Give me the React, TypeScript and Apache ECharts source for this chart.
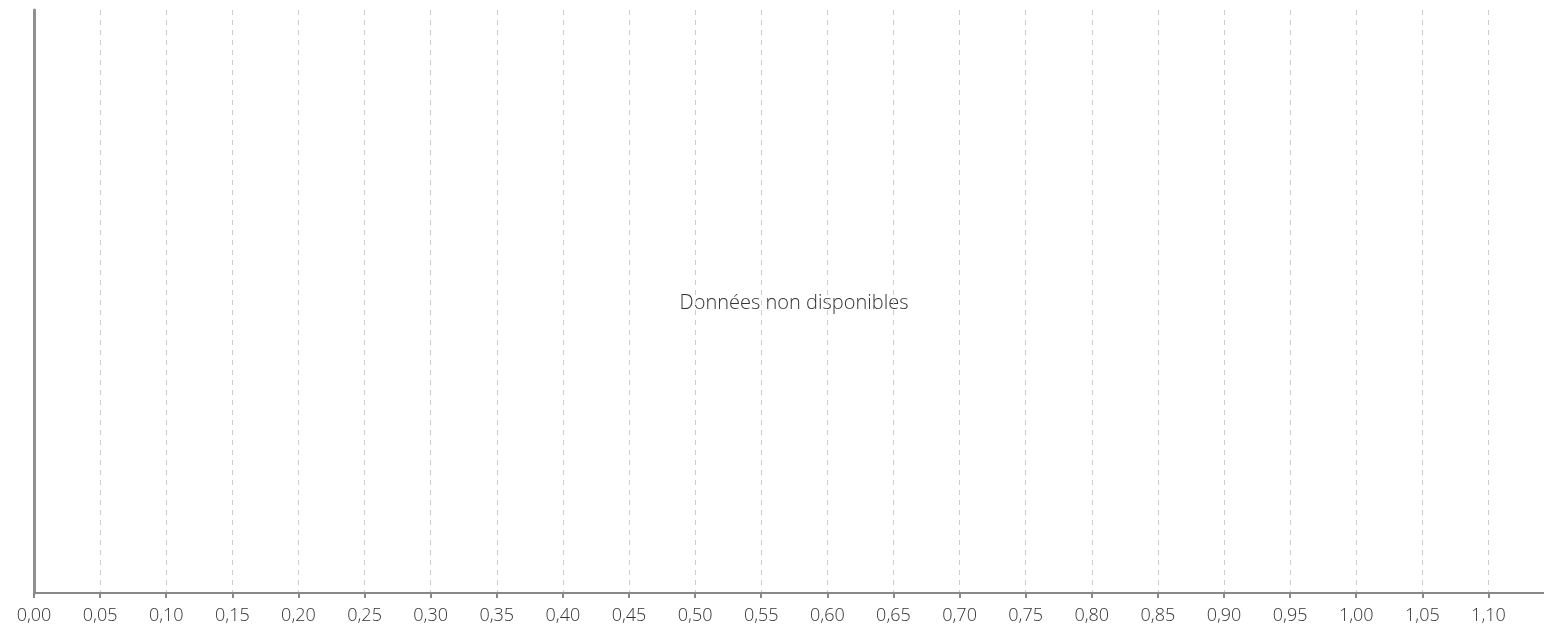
import React, { useEffect, useRef } from "react";
import * as echarts from "echarts";

const xMin = 0;
const xMax = 1.142;
const xInterval = 0.05;
const seriesData: [number, number][] = [];
const emptyMessage = "Données non disponibles";

export default function App() {
  const ref = useRef<HTMLDivElement>(null);
  useEffect(() => {
    if (!ref.current) return;
    const chart = echarts.init(ref.current, undefined, { renderer: "svg" });
    chart.setOption({
      animation: false,
      grid: { left: 34, right: 0, top: 10, bottom: 33, containLabel: false },
      xAxis: {
        type: "value",
        min: xMin,
        max: xMax,
        interval: xInterval,
        axisLine: { show: true, lineStyle: { color: "#888", width: 2 } },
        axisTick: { show: true, length: 5, lineStyle: { color: "#888", width: 2 } },
        axisLabel: {
          showMaxLabel: false,
          margin: 12,
          color: "#333",
          fontFamily: "Open Sans",
          fontWeight: 300,
          fontSize: 18,
          formatter: (v: number) => v.toFixed(2).replace(".", ","),
        },
        splitLine: { show: true, lineStyle: { color: "#ccc", type: [5, 5], width: 1 } },
      },
      yAxis: {
        type: "value",
        min: 0,
        max: 1,
        axisLine: { show: true, lineStyle: { color: "#909090", width: 3 } },
        axisTick: { show: false },
        axisLabel: { show: false },
        splitLine: { show: false },
      },
      series: [{ type: "scatter", data: seriesData }],
      graphic: [
        {
          type: "text",
          x: 794,
          y: 301,
          style: {
            text: emptyMessage,
            align: "center",
            verticalAlign: "middle",
            fill: "#333",
            fontFamily: "Open Sans",
            fontWeight: 300,
            fontSize: 20,
          },
        },
      ],
    });
    return () => chart.dispose();
  }, []);
  return (
    <div
      ref={ref}
      style={{ position: "fixed", left: 0, top: 0, width: 1544, height: 626 }}
    />
  );
}
